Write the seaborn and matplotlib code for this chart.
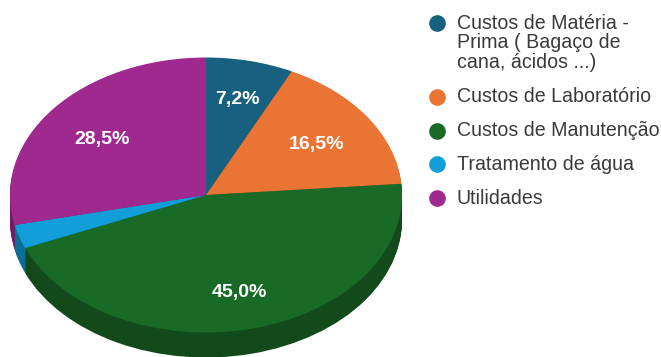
import matplotlib
matplotlib.use("Agg")
import matplotlib.pyplot as plt
import seaborn as sns

categories = [
    "Custos de Matéria -\nPrima ( Bagaço de\ncana, ácidos ...)",
    "Custos de Laboratório",
    "Custos de Manutenção",
    "Tratamento de água",
    "Utilidades",
]
shares = [7.2, 16.5, 45.0, 2.8, 28.5]
top_colors = ["#17607F", "#EA7433", "#1A6A27", "#129FD9", "#A0298F"]

sns.set_theme(style="white")
plt.rcParams["font.family"] = ["Liberation Sans", "DejaVu Sans"]

W, H = 661, 357
CX, CY, RX, RY, DEPTH = 206, 195, 196, 137.5, 25

fig = plt.figure(figsize=(W / 100, H / 100), dpi=100, facecolor="white")
ax = fig.add_axes([0, 0, 1, 1])

palette = sns.color_palette(top_colors)
side_palette = [tuple(c * 0.70 for c in col) for col in palette]

# Side wall: darker copies of the pie stacked downward, one pixel apart
for px in range(DEPTH, 0, -1):
    ax.pie(shares, colors=side_palette, startangle=90, counterclock=False,
           center=(0, -px / RY), wedgeprops={"linewidth": 0})

_, _, pct_texts = ax.pie(
    shares, colors=palette, startangle=90, counterclock=False,
    center=(0, 0), wedgeprops={"linewidth": 0},
    autopct=lambda v: f"{v:.1f}%".replace(".", ","), pctdistance=0.70,
    textprops={"color": "white", "fontsize": 14, "fontweight": "bold"},
)
# The small slice carries no label
pct_texts[3].set_visible(False)

# Small per-label nudges in pixels (x right, y down)
nudges = {0: (1, -2), 1: (-3, 4), 2: (1, 4), 4: (3, 5)}
for i, (dx, dy) in nudges.items():
    x, y = pct_texts[i].get_position()
    pct_texts[i].set_position((x + dx / RX, y - dy / RY))

ax.set_aspect("auto")
ax.set_xlim(-CX / RX, (W - CX) / RX)
ax.set_ylim((CY - H) / RY, CY / RY)

# Legend in pixel coordinates, with the swatch beside the first line of each entry
overlay = fig.add_axes([0, 0, 1, 1], facecolor="none")
overlay.set_xlim(0, W)
overlay.set_ylim(H, 0)
overlay.axis("off")

swatch_y = [23, 97, 131, 164, 198]
text_y = [43, 97, 131, 165, 198.5]
for label, col, sy, ty in zip(categories, palette, swatch_y, text_y):
    overlay.plot([437], [sy], "o", ms=12, mfc=col, mec="none")
    overlay.text(457, ty, label, fontsize=14.1, color="#3A3A3A",
                 va="center", ha="left", linespacing=1.03)

fig.savefig("out.png", dpi=100)
